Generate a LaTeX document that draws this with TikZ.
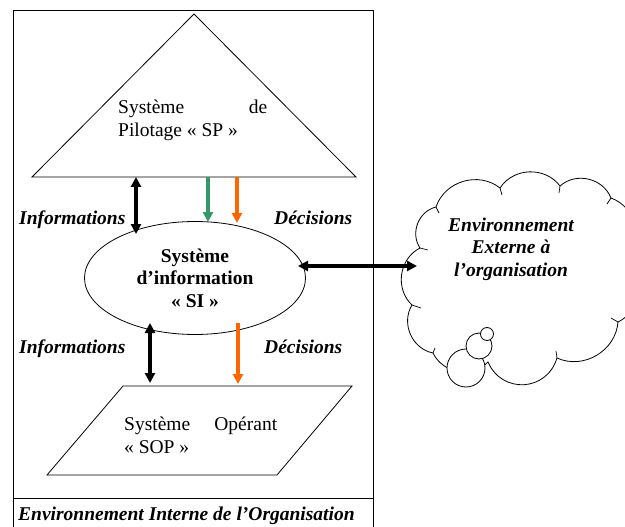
\documentclass[tikz,border=0pt]{standalone}
\usepackage{fontspec}
\setmainfont{Liberation Serif}
\usetikzlibrary{arrows.meta,shapes.geometric}
\definecolor{grn}{RGB}{51,153,102}
\definecolor{org}{RGB}{255,102,0}
\begin{document}
\begin{tikzpicture}[x=1pt,y=-1pt,
  frame/.style={line width=1pt},
  shp/.style={draw,line width=0.8pt},
  bi/.style={font=\fontsize{19.5}{22.5}\selectfont\bfseries\itshape,inner sep=0pt},
  rg/.style={font=\fontsize{19.5}{23}\selectfont,inner sep=0pt},
  flow/.style={line width=3.2pt,-{Triangle[length=10pt,width=10pt]}},
  flowtwo/.style={line width=3.2pt,{Triangle[length=10pt,width=10pt]}-{Triangle[length=10pt,width=10pt]}},
  puff/.style={bend left=55,looseness=1.05},
  bigpuff/.style={bend left=70,looseness=1.3},
  stub/.style={line width=0.7pt},
]
\useasboundingbox (0,0) rectangle (625,527);
\clip (0,0) rectangle (625,527);
\fill[white] (0,0) rectangle (625,527);

% Pilotage triangle
\draw[shp] (194,14) -- (356,177) -- (32,177) -- cycle;
\node[rg,anchor=base west] (sp) at (118,114)
  {\parbox[t]{149pt}{Système\hfill de\\Pilotage « SP »}};

% Information system ellipse
\node[shp,ellipse,minimum width=221pt,minimum height=113pt,inner sep=0pt,
      align=center,font=\fontsize{19.5}{22.5}\selectfont\bfseries] (si) at (195,278)
  {Système\\d’information\\« SI »};

% Operating system parallelogram
\draw[shp] (123,386) -- (352,386) -- (277,475) -- (47,475) -- cycle;
\node[rg,anchor=base west] (sop) at (124,430)
  {\parbox[t]{153pt}{Système\hfill Opérant\\« SOP »}};

% labels
\node[bi,anchor=base west] (infoA) at (19,224) {Informations};
\node[bi,anchor=base west] (decA) at (274,224) {Décisions};
\node[bi,anchor=base west] (infoB) at (19,353) {Informations};
\node[bi,anchor=base west] (decB) at (264,353) {Décisions};
\node[bi,anchor=base west] (envint) at (18,520) {Environnement Interne de l’Organisation};

% arrow end points
\coordinate (spA) at (136,177);  \coordinate (siA) at (136,234);
\coordinate (spG) at (208,177);  \coordinate (siG) at (208,222);
\coordinate (spO) at (237,177);  \coordinate (siO) at (237,223);
\coordinate (siB) at (150,323);  \coordinate (sopB) at (150,383);
\coordinate (siD) at (238,323);  \coordinate (sopD) at (238,384);
\coordinate (siE) at (298,266);  \coordinate (extE) at (417,266);

\draw[flowtwo] (spA) -- (siA);
\draw[flow,grn] (spG) -- (siG);
\draw[flow,org] (spO) -- (siO);
\draw[flowtwo] (siB) -- (sopB);
\draw[flow,org] (siD) -- (sopD);

% cloud
\coordinate (c1) at (420,248);
\coordinate (c2) at (436,207);
\coordinate (c3) at (500,188);
\coordinate (c4) at (560,186);
\coordinate (c5) at (611,198);
\coordinate (c6) at (628,262);
\coordinate (c7) at (618,322);
\coordinate (c8) at (557,358);
\coordinate (c9) at (488,362);
\coordinate (c10) at (433,353);
\coordinate (c11) at (412,305);
\draw[shp,fill=white] (c1) to[puff] (c2) to[puff] (c3) to[puff] (c4) to[puff] (c5)
  to[puff] (c6) to[puff] (c7) to[puff] (c8) to[bigpuff] (c9) to[puff] (c10)
  to[puff] (c11) to[puff] (c1) -- cycle;
\draw[stub] (c1) -- ++(8,2);
\draw[stub] (c2) -- ++(3,6);
\draw[stub] (c3) -- ++(2,7);
\draw[stub] (c4) -- ++(-1,7);
\draw[stub] (c5) -- ++(-4,6);
\draw[stub] (c7) -- ++(-7,-4);
\draw[stub] (c8) -- ++(-1,-7);
\draw[stub] (c10) -- ++(2,-5);
\draw[stub] (c11) -- ++(9,3);
\draw[shp,fill=white] (466,368) circle (19);
\draw[shp,fill=white] (479,346) circle (13);
\draw[shp,fill=white] (487,334) circle (6.5);
\node[bi,align=center] (ext) at (511,249) {Environnement\\Externe à\\l’organisation};

\draw[flowtwo] (siE) -- (extE);

% outer frame
\draw[frame] (13,540) -- (13,11) -- (373,11) -- (373,540);
\draw[frame] (13,498) -- (373,498);
\end{tikzpicture}
\end{document}
